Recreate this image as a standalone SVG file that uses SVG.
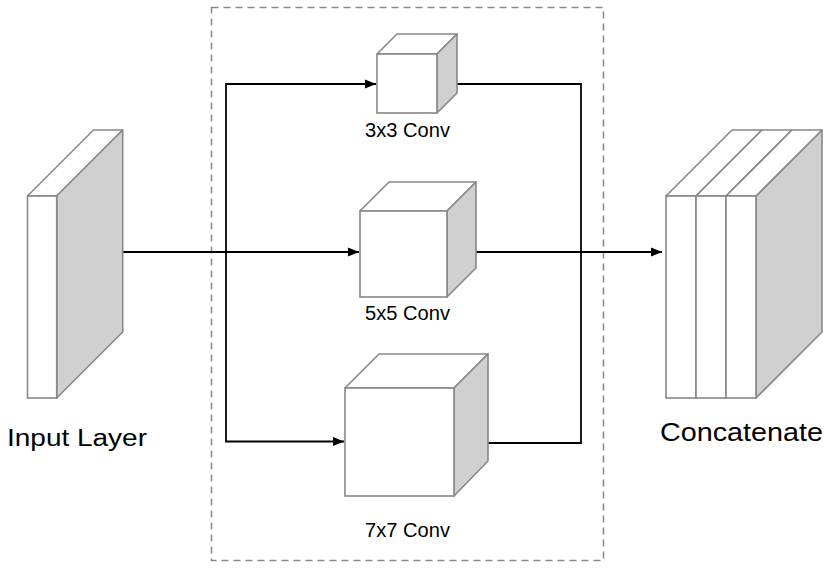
<svg xmlns="http://www.w3.org/2000/svg" width="831" height="575" viewBox="0 0 831 575">
<defs>
<style>
.front{fill:#ffffff;stroke:#888888;stroke-width:1.6}
.top{fill:#ffffff;stroke:#888888;stroke-width:1.6;stroke-linejoin:round}
.side{fill:#d0d0d0;stroke:#888888;stroke-width:1.6;stroke-linejoin:round}
.conn{fill:none;stroke:#000000;stroke-width:1.8}
.lbl{font-family:"Liberation Sans",Arial,Helvetica,sans-serif;fill:#000000}
.group{fill:none;stroke:#888888;stroke-width:1.5;stroke-dasharray:7 5}
</style>
<marker id="arrow" markerUnits="userSpaceOnUse" markerWidth="12" markerHeight="10" refX="11" refY="5" orient="auto">
<path d="M0,0.5 L11,5 L0,9.5 z" fill="#000000"/>
</marker>
</defs>
<rect class="group" x="211.5" y="7.5" width="392" height="553"/>
<g id="connectors">
<path class="conn" d="M122.7 252 H359" marker-end="url(#arrow)"/>
<path class="conn" d="M226 252 V84 H376" marker-end="url(#arrow)"/>
<path class="conn" d="M226 252 V441.5 H344" marker-end="url(#arrow)"/>
<path class="conn" d="M457 84 H581 V252"/>
<path class="conn" d="M487 443 H581 V252"/>
<path class="conn" d="M476 252 H662" marker-end="url(#arrow)"/>
</g>
<g id="input-layer">
<polygon class="top" points="27.5,196 93.5,130 122.7,130 56.7,196"/>
<polygon class="side" points="56.7,196 122.7,130 122.7,332 56.7,398"/>
<rect class="front" x="27.5" y="196" width="29.2" height="202"/>
<text class="lbl" x="7" y="446" font-size="23" textLength="140" lengthAdjust="spacingAndGlyphs">Input Layer</text>
</g>
<g id="conv3x3">
<polygon class="top" points="377,54 397,34 457,34 437,54"/>
<polygon class="side" points="437,54 457,34 457,93 437,113"/>
<rect class="front" x="377" y="54" width="60" height="59"/>
<text class="lbl" x="365" y="137" font-size="20" textLength="85" lengthAdjust="spacingAndGlyphs">3x3 Conv</text>
</g>
<g id="conv5x5">
<polygon class="top" points="360,211 389,182 476,182 447,211"/>
<polygon class="side" points="447,211 476,182 476,268 447,297"/>
<rect class="front" x="360" y="211" width="87" height="86"/>
<text class="lbl" x="365" y="320" font-size="20" textLength="85" lengthAdjust="spacingAndGlyphs">5x5 Conv</text>
</g>
<g id="conv7x7">
<polygon class="top" points="345,388 379,354 488,354 454,388"/>
<polygon class="side" points="454,388 488,354 488,461 454,496"/>
<rect class="front" x="345" y="388" width="109" height="108"/>
<text class="lbl" x="365" y="537" font-size="20" textLength="85" lengthAdjust="spacingAndGlyphs">7x7 Conv</text>
</g>
<g id="concatenate">
<polygon class="side" points="756,196 822,130 822,332 756,398"/>
<polygon class="top" points="666,196 732,130 762,130 696,196"/>
<polygon class="top" points="696,196 762,130 792,130 726,196"/>
<polygon class="top" points="726,196 792,130 822,130 756,196"/>
<rect class="front" x="666" y="196" width="30" height="202"/>
<rect class="front" x="696" y="196" width="30" height="202"/>
<rect class="front" x="726" y="196" width="30" height="202"/>
<text class="lbl" x="660" y="441" font-size="25" textLength="163" lengthAdjust="spacingAndGlyphs">Concatenate</text>
</g>
</svg>
